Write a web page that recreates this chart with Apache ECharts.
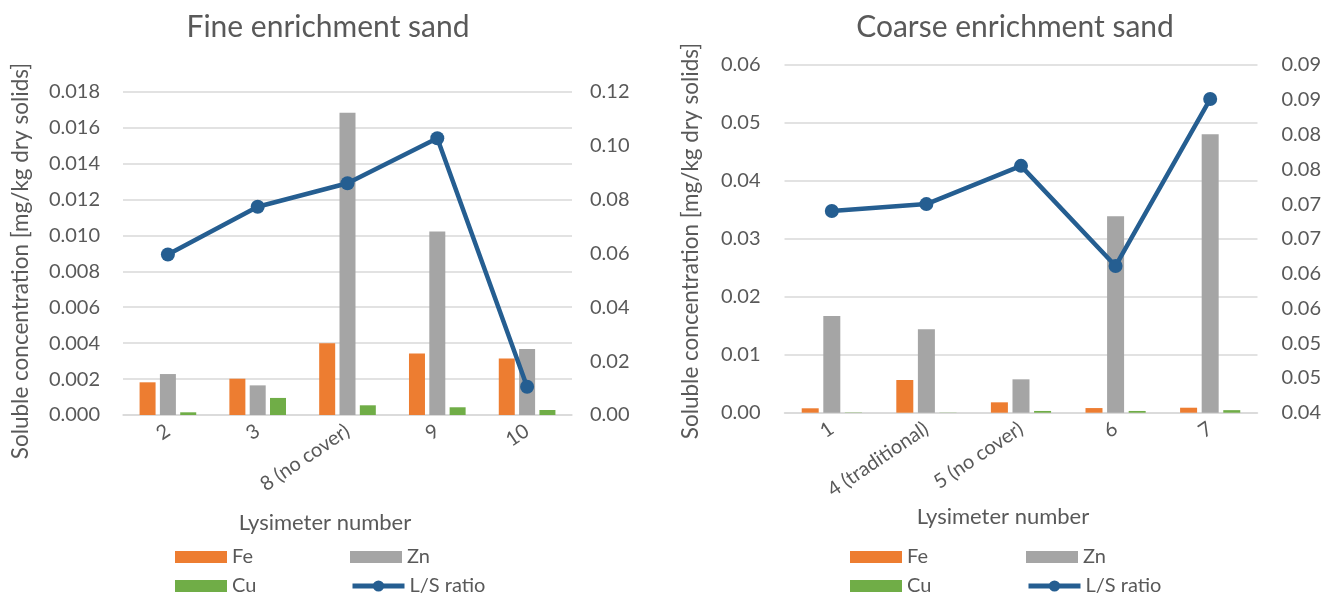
<!DOCTYPE html>
<html><head><meta charset="utf-8">
<script src="https://cdn.jsdelivr.net/npm/echarts@6/dist/echarts.min.js"></script>
<style>html,body{margin:0;padding:0;background:#fff}#c{width:1324px;height:596px}</style>
</head><body><div id="c"></div>
<script>
// ---- data ----
const fineCategories = ['2', '3', '8 (no cover)', '9', '10'];
const fineFe = [0.00182, 0.00202, 0.00399, 0.00343, 0.00315];
const fineZn = [0.00228, 0.00165, 0.01683, 0.01021, 0.00367];
const fineCu = [0.00015, 0.00095, 0.00054, 0.00043, 0.00028];
const fineLS = [0.0596, 0.0773, 0.0860, 0.1027, 0.0105];

const coarseCategories = ['1', '4 (traditional)', '5 (no cover)', '6', '7'];
const coarseFe = [0.00076, 0.00564, 0.00179, 0.00080, 0.00086];
const coarseZn = [0.01667, 0.01438, 0.00576, 0.03390, 0.04805];
const coarseCu = [0.00005, 0.00003, 0.00030, 0.00030, 0.00044];
const coarseLS = [0.0690, 0.0700, 0.0755, 0.0611, 0.0851];

const titles = ['Fine enrichment sand', 'Coarse enrichment sand'];
const yName = 'Soluble concentration [mg/kg dry solids]';
const xName = 'Lysimeter number';

// ---- styling ----
const FONT = 'Lato';
const TXT = '#595959';
const GRID = '#d9d9d9';
const C_FE = '#ed7d31', C_ZN = '#a5a5a5', C_CU = '#70ad47', C_LS = '#255e91';

function fmt(d) { return v => (Math.round(v * Math.pow(10, d) + 1e-6) / Math.pow(10, d)).toFixed(d); }

const chart = echarts.init(document.getElementById('c'), null, {renderer: 'canvas'});

const axisLabelStyle = {color: TXT, fontFamily: FONT, fontSize: 20};

function xAxis(gi, cats) {
  return {
    type: 'category', gridIndex: gi, data: cats,
    axisLine: {show: true, lineStyle: {color: GRID, width: 1.5}},
    axisTick: {show: false},
    axisLabel: {color: TXT, fontFamily: FONT, fontSize: 20, rotate: 34, margin: 14, interval: 0}
  };
}

function barSeries(name, data, color, xi, yi, bw) {
  return {name, type: 'bar', xAxisIndex: xi, yAxisIndex: yi, data,
    itemStyle: {color}, barWidth: bw, barGap: '27%'};
}
function lineSeries(data, xi, yi) {
  return {name: 'L/S ratio', type: 'line', xAxisIndex: xi, yAxisIndex: yi, data,
    symbol: 'circle', symbolSize: 14, z: 5,
    lineStyle: {color: C_LS, width: 4.5}, itemStyle: {color: C_LS}};
}

function oneLegend(name, left, top, isLine) {
  const item = isLine ? {name, lineStyle: {width: 5, color: C_LS}} : {name, icon: 'rect'};
  return {orient: 'horizontal', left, top, padding: 0, itemWidth: 52, itemHeight: isLine ? 14 : 12, itemGap: 5,
    textStyle: {color: TXT, fontFamily: FONT, fontSize: 20}, selectedMode: false, data: [item]};
}
function legends(l1, l2) {
  return [oneLegend('Fe', l1, 547, false), oneLegend('Cu', l1, 576, false),
          oneLegend('Zn', l2, 547, false), oneLegend('L/S ratio', l2, 576, true)];
}

const option = {
  animation: false,
  color: [C_FE, C_ZN, C_CU, C_LS],
  title: [
    {text: titles[0], left: 323, top: 7, textAlign: 'center',
     textStyle: {color: TXT, fontFamily: FONT, fontSize: 30, fontWeight: 'normal'}},
    {text: titles[1], left: 1010, top: 7, textAlign: 'center',
     textStyle: {color: TXT, fontFamily: FONT, fontSize: 30, fontWeight: 'normal'}}
  ],
  legend: legends(175, 350).concat(legends(850, 1026)),
  grid: [
    {left: 123, right: 752, top: 91.7, bottom: 596 - 415},
    {left: 784.5, right: 64.5, top: 65, bottom: 596 - 412.7}
  ],
  xAxis: [xAxis(0, fineCategories), xAxis(1, coarseCategories)],
  yAxis: [
    {type: 'value', gridIndex: 0, min: 0, max: 0.018, interval: 0.002,
     axisLabel: Object.assign({formatter: fmt(3), margin: 23}, axisLabelStyle),
     axisLine: {show: false}, axisTick: {show: false},
     splitLine: {lineStyle: {color: GRID, width: 1.5}}},
    {type: 'value', gridIndex: 0, position: 'right', min: 0, max: 0.12, interval: 0.02,
     axisLabel: Object.assign({formatter: fmt(2), margin: 18}, axisLabelStyle),
     axisLine: {show: false}, axisTick: {show: false}, splitLine: {show: false}},
    {type: 'value', gridIndex: 1, min: 0, max: 0.06, interval: 0.01,
     axisLabel: Object.assign({formatter: fmt(2), margin: 24}, axisLabelStyle),
     axisLine: {show: false}, axisTick: {show: false},
     splitLine: {lineStyle: {color: GRID, width: 1.5}}},
    {type: 'value', gridIndex: 1, position: 'right', min: 0.04, max: 0.09, interval: 0.005,
     axisLabel: Object.assign({formatter: fmt(2), margin: 24}, axisLabelStyle),
     axisLine: {show: false}, axisTick: {show: false}, splitLine: {show: false}}
  ],
  series: [
    barSeries('Fe', fineFe, C_FE, 0, 0, 16),
    barSeries('Zn', fineZn, C_ZN, 0, 0, 16),
    barSeries('Cu', fineCu, C_CU, 0, 0, 16),
    lineSeries(fineLS, 0, 1),
    barSeries('Fe', coarseFe, C_FE, 1, 2, 17),
    barSeries('Zn', coarseZn, C_ZN, 1, 2, 17),
    barSeries('Cu', coarseCu, C_CU, 1, 2, 17),
    lineSeries(coarseLS, 1, 3)
  ],
  graphic: [
    {type: 'text', x: 21, y: 261, rotation: Math.PI / 2,
     style: {text: yName, fill: TXT, font: '22.5px ' + FONT, textAlign: 'center', textVerticalAlign: 'middle'}},
    {type: 'text', x: 691, y: 241, rotation: Math.PI / 2,
     style: {text: yName, fill: TXT, font: '22.5px ' + FONT, textAlign: 'center', textVerticalAlign: 'middle'}},
    {type: 'text', x: 325, y: 523,
     style: {text: xName, fill: TXT, font: '22px ' + FONT, textAlign: 'center', textVerticalAlign: 'middle'}},
    {type: 'text', x: 1003, y: 517,
     style: {text: xName, fill: TXT, font: '22px ' + FONT, textAlign: 'center', textVerticalAlign: 'middle'}}
  ]
};
chart.setOption(option);
</script>
</body></html>
